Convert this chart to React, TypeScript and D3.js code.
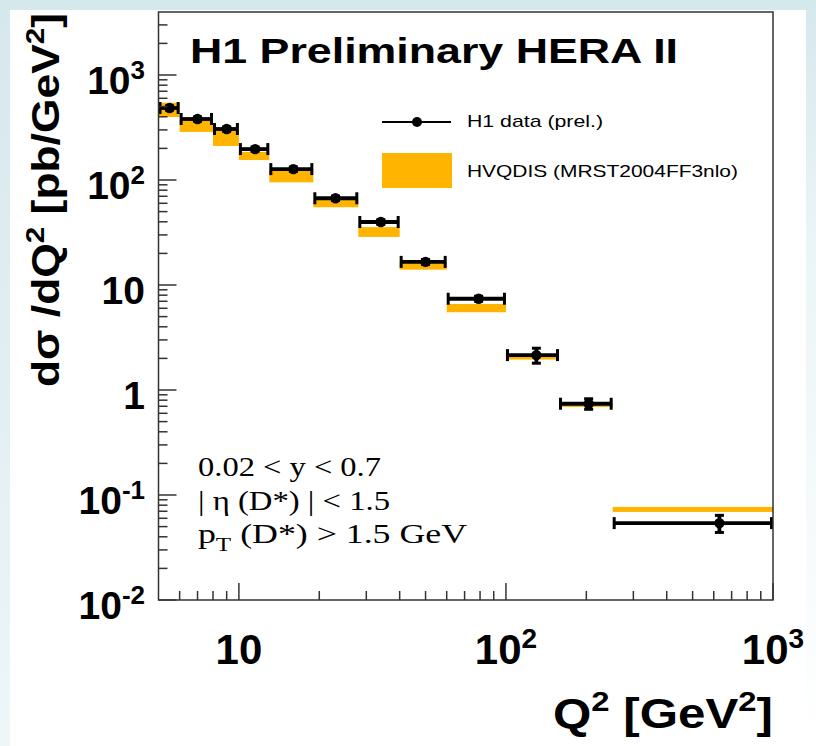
import React, { useEffect } from "react";
import * as d3 from "d3";

// Q2 bins [GeV^2]
const binLow = [5, 6, 8, 10, 13, 19, 28, 40, 60, 100, 158, 251];
const binHigh = [6, 8, 10, 13, 19, 28, 40, 60, 100, 158, 251, 1000];
const q2Center = [5.5, 7, 9, 11.5, 16, 23, 34, 50, 79, 130, 204, 630];
// H1 data (prel.) dsigma/dQ2 [pb/GeV^2]
const xsec = [485, 381, 306, 197, 127, 67, 39.8, 16.6, 7.4, 2.15, 0.74, 0.054];
const xsecErr = [22, 17, 14, 9, 6, 3.2, 2.0, 0.9, 0.4, 0.35, 0.085, 0.01];
// HVQDIS (MRST2004FF3nlo) band
const theoryHigh = [545, 373, 299, 185, 124, 65, 35.6, 16.5, 6.6, 2.2, 0.75, 0.077];
const theoryLow = [398, 287, 211, 155, 95, 55, 28.7, 14.0, 5.5, 1.95, 0.69, 0.069];

const yMajor = [0.01, 0.1, 1, 10, 100, 1000];
const yLabelBase = ["10", "10", "1", "10", "10", "10"];
const yLabelExp = ["-2", "-1", "", "", "2", "3"];
const xMajor = [10, 100, 1000];
const xLabelBase = ["10", "10", "10"];
const xLabelExp = ["", "2", "3"];

const cutLines = ["0.02 < y < 0.7", "| η (D*) | < 1.5"];

const W = 816;
const H = 746;
const L = 158.5, R = 773, T = 12, B = 600;

export default function App() {
  useEffect(() => {
    document.body.style.margin = "0";
  }, []);

  const x = d3.scaleLog().domain([5, 1000]).range([L, R]);
  const y = d3.scaleLog().domain([0.01, Math.pow(10, 3.6)]).range([B, T]);

  const yMinor: number[] = [];
  for (let e = -2; e <= 3; e++) {
    for (let m = 2; m <= 9; m++) {
      const v = m * Math.pow(10, e);
      if (v < Math.pow(10, 3.6)) yMinor.push(v);
    }
  }
  const xMinor: number[] = [];
  for (let e = 0; e <= 2; e++) {
    for (let m = 2; m <= 9; m++) {
      const v = m * Math.pow(10, e);
      if (v > 5 && v < 1000) xMinor.push(v);
    }
  }

  const orange = "#FFB400";
  const sans = "'Liberation Sans', Arial, Helvetica, sans-serif";
  const serif = "'Liberation Serif', 'Times New Roman', serif";

  return (
    <svg width={W} height={H} style={{ position: "absolute", left: 0, top: 0, display: "block" }}>
      <defs>
        <linearGradient id="leftg" x1="0" y1="0" x2="0" y2="1">
          <stop offset="0" stopColor="#d5e8ec" />
          <stop offset="1" stopColor="#eef6f8" />
        </linearGradient>
        <linearGradient id="rightg" x1="0" y1="0" x2="0" y2="1">
          <stop offset="0" stopColor="#d5e8ec" />
          <stop offset="0.3" stopColor="#eaf4f6" />
          <stop offset="1" stopColor="#ffffff" />
        </linearGradient>
      </defs>
      <rect x={0} y={0} width={W} height={H} fill="#ffffff" />
      <rect x={0} y={0} width={10} height={H} fill="url(#leftg)" />
      <rect x={806} y={0} width={10} height={H} fill="url(#rightg)" />
      <rect x={0} y={0} width={W} height={10} fill="#d5e8ec" />

      {/* theory bands */}
      {binLow.map((lo, i) => (
        <rect
          key={"band" + i}
          x={x(lo)}
          y={y(theoryHigh[i])}
          width={x(binHigh[i]) - x(lo)}
          height={y(theoryLow[i]) - y(theoryHigh[i])}
          fill={orange}
        />
      ))}

      {/* data */}
      {binLow.map((lo, i) => {
        const cy = y(xsec[i]);
        const x0 = x(lo) + 1.5, x1 = x(binHigh[i]) - 1.5;
        const cx = x(q2Center[i]);
        const yt = y(xsec[i] + xsecErr[i]);
        const yb = y(xsec[i] - xsecErr[i]);
        return (
          <g key={"pt" + i} stroke="#000" fill="#000">
            <line x1={x0} x2={x1} y1={cy} y2={cy} strokeWidth={3.8} />
            <line x1={x0} x2={x0} y1={cy - 6} y2={cy + 6} strokeWidth={3} />
            <line x1={x1} x2={x1} y1={cy - 6} y2={cy + 6} strokeWidth={3} />
            <line x1={cx} x2={cx} y1={yt} y2={yb} strokeWidth={3.8} />
            <line x1={cx - 4.5} x2={cx + 4.5} y1={yt} y2={yt} strokeWidth={3} />
            <line x1={cx - 4.5} x2={cx + 4.5} y1={yb} y2={yb} strokeWidth={3} />
            <circle cx={cx} cy={cy} r={5.2} stroke="none" />
          </g>
        );
      })}

      {/* frame */}
      <rect x={L} y={T} width={R - L} height={B - T} fill="none" stroke="#333" strokeWidth={1.5} />

      {/* y ticks */}
      {yMajor.map((v, i) => (
        <line key={"ymj" + i} x1={L} x2={L + 18} y1={y(v)} y2={y(v)} stroke="#333" strokeWidth={1.5} />
      ))}
      {yMinor.map((v, i) => (
        <line key={"ymn" + i} x1={L} x2={L + 9} y1={y(v)} y2={y(v)} stroke="#333" strokeWidth={1.5} />
      ))}
      {/* x ticks */}
      {xMajor.map((v, i) => (
        <line key={"xmj" + i} x1={x(v)} x2={x(v)} y1={B} y2={B - 17} stroke="#333" strokeWidth={1.5} />
      ))}
      {xMinor.map((v, i) => (
        <line key={"xmn" + i} x1={x(v)} x2={x(v)} y1={B} y2={B - 9} stroke="#333" strokeWidth={1.5} />
      ))}

      {/* y tick labels */}
      {yMajor.map((v, i) => (
        <text key={"yl" + i} x={145} y={y(v) + 19} textAnchor="end" fontFamily={sans} fontWeight="bold" fontSize={39} fill="#000">
          {yLabelBase[i]}
          {yLabelExp[i] ? (
            <tspan fontSize={26} dy={-15}>{yLabelExp[i]}</tspan>
          ) : null}
        </text>
      ))}

      {/* x tick labels */}
      {xMajor.map((v, i) => (
        <text key={"xl" + i} x={x(v)} y={664} textAnchor="middle" fontFamily={sans} fontWeight="bold" fontSize={42} fill="#000">
          {xLabelBase[i]}
          {xLabelExp[i] ? (
            <tspan fontSize={28} dy={-16}>{xLabelExp[i]}</tspan>
          ) : null}
        </text>
      ))}

      {/* axis titles */}
      <text x={773} y={728} textAnchor="end" fontFamily={sans} fontWeight="bold" fontSize={42} fill="#000" textLength={220} lengthAdjust="spacingAndGlyphs">
        Q<tspan fontSize={28} dy={-17}>2</tspan>
        <tspan dy={17}> [GeV</tspan>
        <tspan fontSize={28} dy={-17}>2</tspan>
        <tspan dy={17}>]</tspan>
      </text>
      <text transform="translate(59,200) rotate(-90)" textAnchor="middle" fontFamily={sans} fontWeight="bold" fontSize={39} fill="#000" textLength={374} lengthAdjust="spacingAndGlyphs">
        dσ /dQ<tspan fontSize={26} dy={-15}>2</tspan>
        <tspan dy={15}> [pb/GeV</tspan>
        <tspan fontSize={26} dy={-15}>2</tspan>
        <tspan dy={15}>]</tspan>
      </text>

      {/* title */}
      <text x={190} y={63} fontFamily={sans} fontWeight="bold" fontSize={35} fill="#000" textLength={488} lengthAdjust="spacingAndGlyphs">
        H1 Preliminary HERA II
      </text>

      {/* legend */}
      <line x1={382} x2={451} y1={122} y2={122} stroke="#000" strokeWidth={2} />
      <circle cx={417} cy={122} r={5} fill="#000" />
      <text x={467} y={127} fontFamily={sans} fontSize={17} fill="#000" textLength={136} lengthAdjust="spacingAndGlyphs">
        H1 data (prel.)
      </text>
      <rect x={382} y={153} width={70} height={35} fill={orange} />
      <text x={467} y={177} fontFamily={sans} fontSize={17} fill="#000" textLength={271} lengthAdjust="spacingAndGlyphs">
        HVQDIS (MRST2004FF3nlo)
      </text>

      {/* cuts */}
      <text x={198} y={476} fontFamily={serif} fontSize={27} fill="#000" textLength={183} lengthAdjust="spacingAndGlyphs">
        {cutLines[0]}
      </text>
      <text x={198} y={510} fontFamily={serif} fontSize={27} fill="#000" textLength={192} lengthAdjust="spacingAndGlyphs">
        {cutLines[1]}
      </text>
      <text x={198} y={543} fontFamily={serif} fontSize={27} fill="#000" textLength={269} lengthAdjust="spacingAndGlyphs">
        p<tspan fontSize={19} dy={8}>T</tspan>
        <tspan dy={-8}> (D*) &gt; 1.5 GeV</tspan>
      </text>
    </svg>
  );
}
